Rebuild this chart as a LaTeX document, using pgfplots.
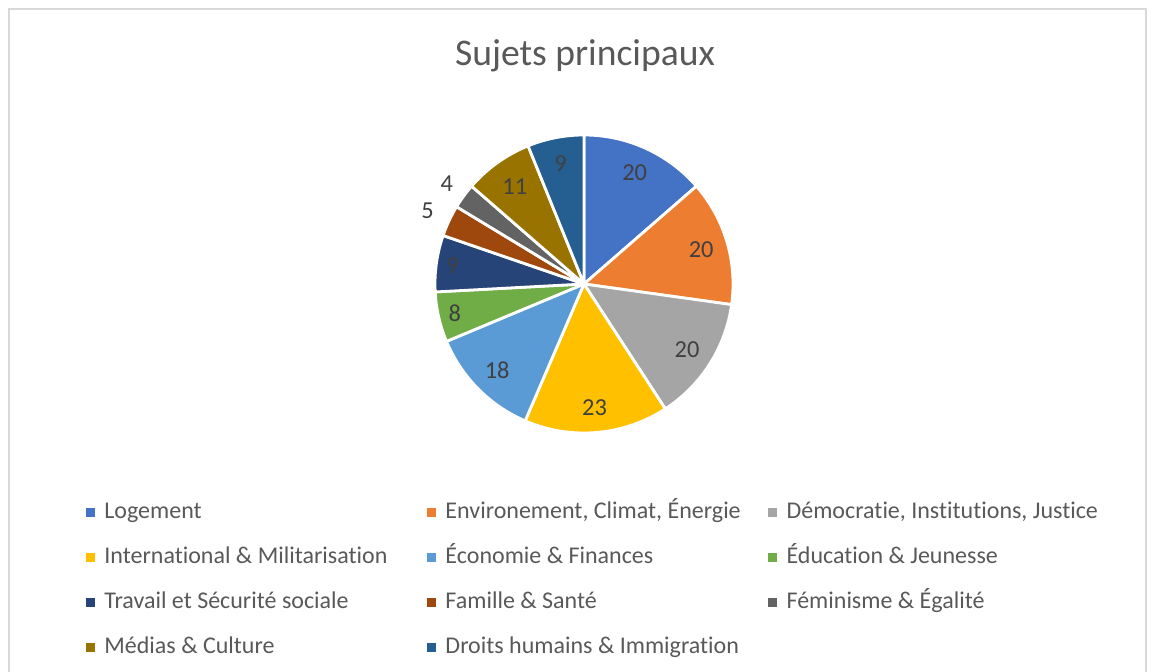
\documentclass[border=0pt]{standalone}
\usepackage{pgfplots}
\pgfplotsset{compat=1.18}
\usepackage{fontspec}
\setmainfont{Carlito}[Ligatures=CommonOff]
\definecolor{c1}{HTML}{4472C4}
\definecolor{c2}{HTML}{ED7D31}
\definecolor{c3}{HTML}{A5A5A5}
\definecolor{c4}{HTML}{FFC000}
\definecolor{c5}{HTML}{5B9BD5}
\definecolor{c6}{HTML}{70AD47}
\definecolor{c7}{HTML}{264478}
\definecolor{c8}{HTML}{9E480E}
\definecolor{c9}{HTML}{636363}
\definecolor{c10}{HTML}{997300}
\definecolor{c11}{HTML}{255E91}
\definecolor{titlecol}{HTML}{595959}
\definecolor{labcol}{HTML}{404040}
\definecolor{legcol}{HTML}{595959}
\definecolor{framecol}{HTML}{D9D9D9}
% #1 start (cumulative), #2 end (cumulative), #3 colour, #4 legend text, #5 value, #6 label radius
\newcommand{\slice}[6]{%
  \addplot[fill=#3, draw=white, line width=1.4pt, line join=round,
    domain={90-#2*360/147}:{90-#1*360/147}, samples=60, variable=\ang]
    ({cos(\ang)},{sin(\ang)}) -- (axis cs:0,0) -- cycle;
  \addlegendentry{\makebox[161.35pt][l]{#4}}
  \node[text=labcol, font=\fontsize{12.2pt}{14pt}\selectfont]
    at (axis cs:{#6*cos(90-(#1+#2)/2*360/147)},{#6*sin(90-(#1+#2)/2*360/147)}) {#5};
}
\begin{document}
\begin{tikzpicture}
\useasboundingbox (0,0) rectangle (577.5pt,336pt);
\fill[white] (0,0) rectangle (577.5pt,336pt);
\draw[framecol, line width=1pt] (4.25pt,-5pt) rectangle (573pt,331.4pt);
\node[anchor=base, text=titlecol, font=\fontsize{18.8pt}{22pt}\selectfont] at (292.5pt,303pt) {Sujets principaux};
\begin{axis}[
  at={(292pt,194pt)}, anchor=center,
  scale only axis, width=223.5pt, height=223.5pt,
  xmin=-1.5, xmax=1.5, ymin=-1.5, ymax=1.5,
  hide axis, clip=false,
  legend columns=3,
  legend cell align=left,
  legend image code/.code={%
    \fill[#1, draw=none] (0pt,-2.0pt) rectangle (4.5pt,2.5pt);
    \path (8.5pt,0pt);},
  legend style={at={(-0.6141,0.0123)}, anchor=north west,
    draw=none, fill=none, inner sep=0pt, outer sep=0pt,
    row sep=11.5pt, column sep=0pt,
    text=legcol, font=\fontsize{12pt}{14pt}\selectfont,
    nodes={inner sep=0pt, text height=8.5pt, text depth=2.5pt}},
]
\slice{0}{20}{c1}{Logement}{20}{0.82}
\slice{20}{40}{c2}{Environement, Climat, Énergie}{20}{0.82}
\slice{40}{60}{c3}{Démocratie, Institutions, Justice}{20}{0.82}
\slice{60}{83}{c4}{International \& Militarisation}{23}{0.83}
\slice{83}{101}{c5}{Économie \& Finances}{18}{0.82}
\slice{101}{109}{c6}{Éducation \& Jeunesse}{8}{0.89}
\slice{109}{118}{c7}{Travail et Sécurité sociale}{9}{0.89}
\slice{118}{123}{c8}{Famille \& Santé}{5}{1.16}
\slice{123}{127}{c9}{Féminisme \& Égalité}{4}{1.14}
\slice{127}{138}{c10}{Médias \& Culture}{11}{0.80}
\slice{138}{147}{c11}{Droits humains \& Immigration}{9}{0.82}
\end{axis}
\end{tikzpicture}
\end{document}
